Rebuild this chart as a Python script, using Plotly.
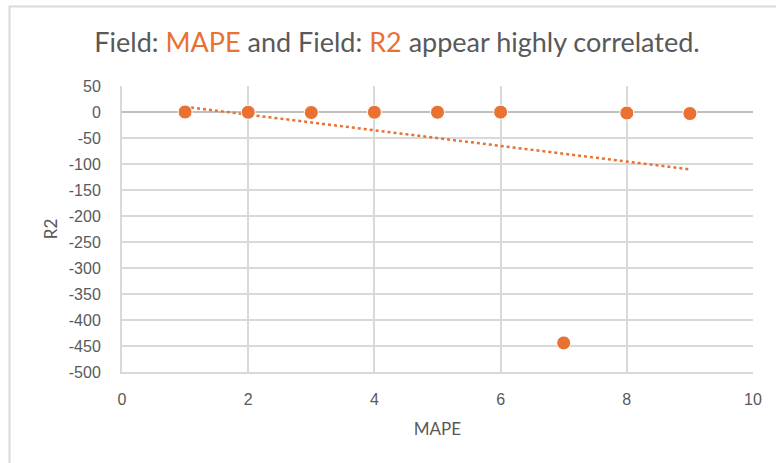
import numpy as np
import plotly.graph_objects as go

# MAPE vs R2 observations
mape = [1, 2, 3, 4, 5, 6, 7, 8, 9]
r2 = [0.0, -0.5, -1.0, -0.5, -0.5, -0.3, -444.0, -2.0, -3.0]

x_ticks = [0, 2, 4, 6, 8, 10]
y_ticks = [50, 0, -50, -100, -150, -200, -250, -300, -350, -400, -450, -500]
y_tick_text = [str(v) for v in y_ticks]  # plain hyphen for negatives

ORANGE = "#E97132"
GRID = "#D9D9D9"
TEXT = "#595959"

# Linear trendline over the observed range
slope, intercept = np.polyfit(mape, r2, 1)
trend_x = [min(mape), max(mape)]
trend_y = [slope * v + intercept for v in trend_x]

fig = go.Figure()
fig.add_trace(go.Scatter(
    x=trend_x, y=trend_y, mode="lines",
    line=dict(color=ORANGE, width=2.5, dash="dot"),
    hoverinfo="skip", showlegend=False,
))
fig.add_trace(go.Scatter(
    x=mape, y=r2, mode="markers",
    marker=dict(color=ORANGE, size=14, line=dict(color="white", width=1)),
    showlegend=False,
))

L, R, T, B = 122, 23, 86, 91
W, H = 776, 463
pw, ph = W - L - R, H - T - B

def px_x(p):
    return (p - L) / pw

def px_y(p):
    return (H - B - p) / ph

fig.update_layout(
    width=W, height=H,
    margin=dict(l=L, r=R, t=T, b=B),
    paper_bgcolor="white", plot_bgcolor="white",
    title=dict(
        text=(f"Field: <span style='color:{ORANGE}'>MAPE</span> and Field: "
              f"<span style='color:{ORANGE}'>R2</span> appear highly correlated."),
        x=397 / W, xanchor="center", xref="container",
        y=1 - 43 / H, yanchor="middle",
        font=dict(family="Lato, Open Sans, sans-serif", size=27, color=TEXT),
    ),
    xaxis=dict(
        range=[0, 10], tickvals=x_ticks, showgrid=True, gridcolor=GRID, gridwidth=2,
        zeroline=False, showline=True, linecolor=GRID, linewidth=2, mirror=False,
        ticks="", tickfont=dict(family="Liberation Sans, Arial", size=16, color=TEXT),
        ticklabelstandoff=12,
        title=dict(text="MAPE", font=dict(family="Lato, sans-serif", size=17, color=TEXT),
                   standoff=16),
        fixedrange=True,
    ),
    yaxis=dict(
        range=[-500, 50], tickvals=y_ticks, ticktext=y_tick_text,
        showgrid=True, gridcolor=GRID, gridwidth=2,
        zeroline=True, zerolinecolor="#BFBFBF", zerolinewidth=2,
        showline=True, linecolor=GRID, linewidth=2,
        ticks="", tickfont=dict(family="Liberation Sans, Arial", size=16, color=TEXT),
        ticklabelstandoff=16,
        title=dict(text="R2", font=dict(family="Lato, sans-serif", size=17, color=TEXT),
                   standoff=7),
        fixedrange=True,
    ),
    shapes=[dict(
        type="rect", xref="paper", yref="paper",
        x0=px_x(9.5), x1=px_x(W + 20), y0=px_y(H + 20), y1=px_y(6.5),
        line=dict(color=GRID, width=2), fillcolor="rgba(0,0,0,0)", layer="below",
    )],
)

fig.write_html("out.html")
